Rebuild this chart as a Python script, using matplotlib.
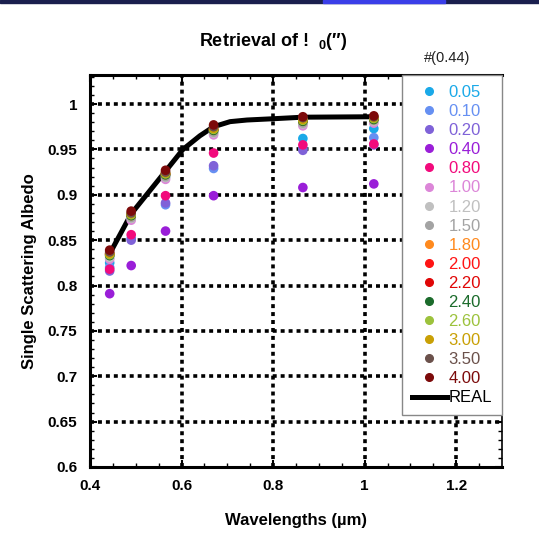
import numpy as np
import matplotlib
matplotlib.use('Agg')
import matplotlib.pyplot as plt
from matplotlib.lines import Line2D
from matplotlib.patches import Rectangle

plt.rcParams['font.family'] = ['Liberation Sans', 'DejaVu Sans']
plt.rcParams['mathtext.fontset'] = 'custom'
plt.rcParams['mathtext.bf'] = 'Liberation Sans:bold'
plt.rcParams['mathtext.rm'] = 'Liberation Sans'

# wavelengths (um) of the retrievals
wl = [0.443, 0.49, 0.565, 0.67, 0.865, 1.02]

labels = ['0.05', '0.10', '0.20', '0.40', '0.80', '1.00', '1.20', '1.50',
          '1.80', '2.00', '2.20', '2.40', '2.60', '3.00', '3.50', '4.00']
colors = ['#1aa9e8', '#6690f2', '#7f62d8', '#9a1ed8', '#f20a7c', '#dc86d8',
          '#c0c0c0', '#a3a3a3', '#ff8a1e', '#ff1414', '#e00606', '#1b6b2b',
          '#9cc23c', '#c9a005', '#6b514b', '#7c0a0a']

ssa = [
    [0.825, 0.875, 0.921, 0.970, 0.962, 0.973],   # 0.05
    [0.820, 0.852, 0.889, 0.929, 0.951, 0.963],   # 0.10
    [0.816, 0.850, 0.891, 0.932, 0.949, 0.955],   # 0.20
    [0.791, 0.822, 0.860, 0.899, 0.908, 0.912],   # 0.40
    [0.818, 0.856, 0.899, 0.946, 0.955, 0.956],   # 0.80
    [0.829, 0.872, 0.917, 0.966, 0.976, 0.979],   # 1.00
    [0.831, 0.874, 0.919, 0.968, 0.978, 0.981],   # 1.20
    [0.833, 0.875, 0.920, 0.969, 0.979, 0.982],   # 1.50
    [0.834, 0.877, 0.922, 0.971, 0.981, 0.983],   # 1.80
    [0.835, 0.878, 0.923, 0.972, 0.982, 0.984],   # 2.00
    [0.835, 0.878, 0.923, 0.972, 0.982, 0.984],   # 2.20
    [0.833, 0.877, 0.922, 0.971, 0.981, 0.983],   # 2.40
    [0.834, 0.878, 0.923, 0.972, 0.982, 0.984],   # 2.60
    [0.835, 0.879, 0.924, 0.973, 0.983, 0.985],   # 3.00
    [0.837, 0.880, 0.925, 0.975, 0.985, 0.986],   # 3.50
    [0.839, 0.882, 0.927, 0.977, 0.986, 0.987],   # 4.00
]

real_wl = [0.443, 0.49, 0.565, 0.603, 0.64, 0.67, 0.706, 0.743, 0.80, 0.865, 1.02]
real_ssa = [0.835, 0.879, 0.926, 0.950, 0.965, 0.975, 0.9806, 0.9824, 0.9838, 0.9855, 0.986]

fig = plt.figure(figsize=(5.39, 5.40), dpi=100)
ax = fig.add_axes([90 / 539, 1 - 467 / 540, 412 / 539, 392 / 540])

# slide header band
fig.patches.append(Rectangle((0, 1 - 3 / 540), 1, 3 / 540, transform=fig.transFigure,
                             color='#1a1f4e', zorder=0))
fig.patches.append(Rectangle((323 / 539, 1 - 3 / 540), 122 / 539, 3 / 540,
                             transform=fig.transFigure, color='#3a3ee8', zorder=0))

ax.set_xlim(0.4, 1.3)
ax.set_ylim(0.6, 1.032)
ax.set_xticks([0.4, 0.6, 0.8, 1.0, 1.2])
ax.set_xticklabels(['0.4', '0.6', '0.8', '1', '1.2'])
ax.set_xticks(np.arange(0.4, 1.3, 0.05), minor=True)
ax.set_yticks(np.arange(0.6, 1.001, 0.05))
ax.set_yticklabels(['0.6', '0.65', '0.7', '0.75', '0.8', '0.85', '0.9', '0.95', '1'])
ax.set_yticks(np.arange(0.6, 1.03, 0.01), minor=True)

for v in [0.6, 0.8, 1.0, 1.2]:
    ax.axvline(v, color='black', lw=2.6, dashes=(1.1, 1.1), zorder=1)
for v in np.arange(0.65, 1.001, 0.05):
    ax.axhline(v, color='black', lw=2.6, dashes=(1.1, 1.1), zorder=1)

ax.tick_params(which='both', direction='in', top=True, right=True, labelsize=11)
ax.tick_params(axis='x', which='major', pad=9)
ax.tick_params(axis='y', which='major', pad=9)
ax.tick_params(which='major', length=5, width=1.5)
ax.tick_params(which='minor', length=3, width=1)
for t in ax.get_xticklabels() + ax.get_yticklabels():
    t.set_fontweight('bold')
for s in ['left', 'bottom', 'top']:
    ax.spines[s].set_linewidth(2.2)
ax.spines['right'].set_linewidth(1.2)

ax.plot(real_wl, real_ssa, color='black', lw=3.6, zorder=2, solid_capstyle='butt')
for lab, col, vals in zip(labels, colors, ssa):
    ax.scatter(wl, vals, s=48, color=col, edgecolors='none', zorder=3)

handles = [Line2D([], [], marker='o', ls='none', color=c, markersize=5.5) for c in colors]
handles.append(Line2D([], [], color='black', lw=3.6))
leg = ax.legend(handles, labels + ['REAL'], loc='upper right', bbox_to_anchor=(1.0, 1.0),
                borderaxespad=0, fontsize=12, labelspacing=0.245, handlelength=2.1,
                handletextpad=0.1, borderpad=0.6, fancybox=False, framealpha=1,
                edgecolor='#888888')
leg.get_frame().set_linewidth(1.0)
leg.set_zorder(5)
for txt, c in zip(leg.get_texts(), colors + ['black']):
    txt.set_color(c)

ax.set_xlabel('Wavelengths (µm)', fontsize=12, fontweight='bold', labelpad=14)
ax.set_ylabel('Single Scattering Albedo', fontsize=12, fontweight='bold', labelpad=8)

fig.text(273 / 539, 1 - 42 / 540, 'Retrieval of !  $_{\\mathbf{0}}$(″)', fontsize=13,
         fontweight='bold', ha='center', va='center')
fig.text(447 / 539, 1 - 58 / 540, '#(0.44)', fontsize=10.5, ha='center', va='center',
         color='#222222')

plt.savefig('out.png', dpi=100)
